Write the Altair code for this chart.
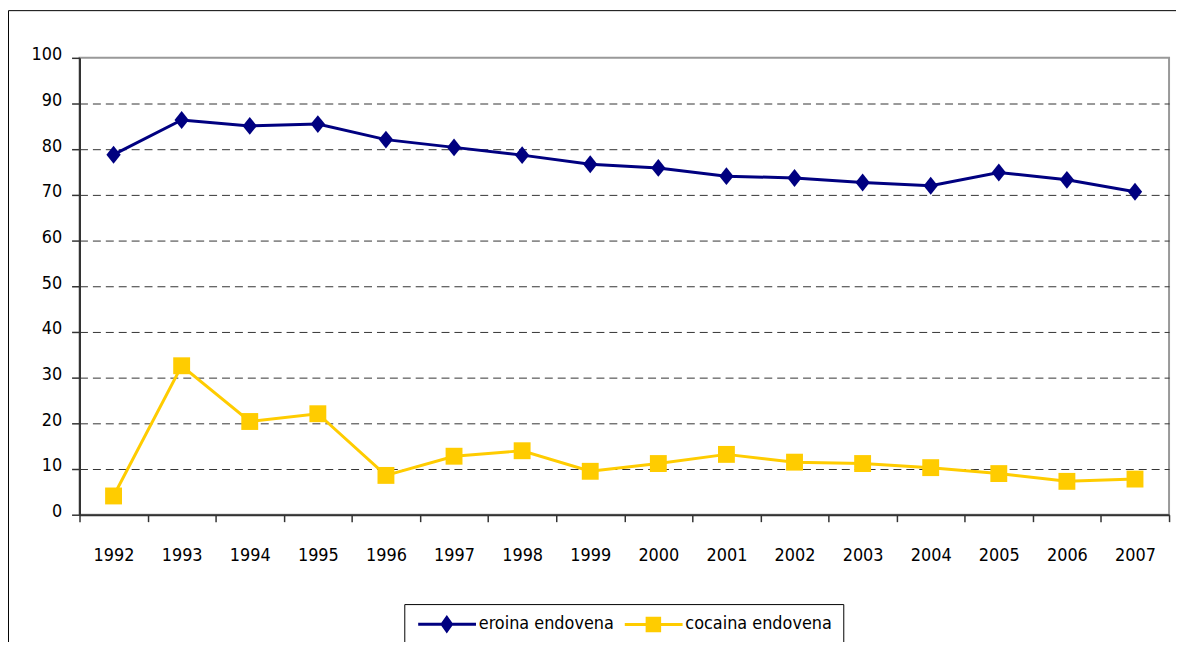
import altair as alt
import pandas as pd

years = ["1992", "1993", "1994", "1995", "1996", "1997", "1998", "1999",
         "2000", "2001", "2002", "2003", "2004", "2005", "2006", "2007"]
eroina = [78.8, 86.4, 85.1, 85.5, 82.1, 80.4, 78.7, 76.7,
          75.9, 74.1, 73.7, 72.7, 72.0, 74.9, 73.3, 70.7]
cocaina = [4.1, 32.6, 20.4, 22.1, 8.6, 12.8, 14.0, 9.5,
           11.2, 13.2, 11.5, 11.2, 10.3, 9.0, 7.3, 7.8]
series_names = ["eroina endovena", "cocaina endovena"]
colors = ["#000080", "#FFCC00"]
y_ticks = [0, 10, 20, 30, 40, 50, 60, 70, 80, 90, 100]

FONT = "Liberation Sans Narrow, Arial Narrow, DejaVu Sans Condensed, sans-serif"
FS = 18

rows = []
for i, yr in enumerate(years):
    rows.append({"year": yr, "value": eroina[i], "series": series_names[0]})
    rows.append({"year": yr, "value": cocaina[i], "series": series_names[1]})
df = pd.DataFrame(rows)

DIAMOND = "M0,-1 L0.8,0 L0,1 L-0.8,0 Z"
LEG_E = "M-1,-0.25 L8.7,-0.25 L8.7,0.25 L-1,0.25 Z M3.8,-1.55 L4.9,0 L3.8,1.55 L2.7,0 Z"
LEG_C = "M-1,-0.25 L8.7,-0.25 L8.7,0.25 L-1,0.25 Z M2.5,-1.3 L5.1,-1.3 L5.1,1.3 L2.5,1.3 Z"

x_enc = alt.X(
    "year:O",
    scale=alt.Scale(type="band", paddingInner=0, paddingOuter=0),
    axis=alt.Axis(
        title=None, labelAngle=0, tickBand="extent", tickSize=7,
        tickColor="#333333", tickWidth=1.5, domainColor="#333333",
        domainWidth=2, labelFontSize=FS, labelFont=FONT, labelColor="black",
        labelPadding=25, grid=False,
    ),
)
y_enc = alt.Y(
    "value:Q",
    scale=alt.Scale(domain=[0, 100], nice=False),
    axis=alt.Axis(
        title=None, values=y_ticks, tickSize=8, tickColor="#333333",
        tickWidth=1.5, domainColor="#333333", domainWidth=2,
        labelPadding=10, labelFontSize=FS, labelFont=FONT, labelColor="black",
        labelOffset=-3, grid=True, gridDash=[8, 5], gridColor="#333333",
        gridWidth=1,
        gridOpacity={"condition": {"test": "datum.value === 0 || datum.value === 100", "value": 0}, "value": 1},
    ),
)

base = alt.Chart(df)

frame = alt.Chart(alt.Data(values=[{"a": 1}])).mark_rect(
    filled=False, stroke="black", strokeWidth=1
).encode(
    x=alt.value(-71.5), x2=alt.value(1400), y=alt.value(-47.5), y2=alt.value(900)
)

layers = [frame]
shapes = [DIAMOND, "square"]
sizes = [324, 289]
for name, col, shp, sz in zip(series_names, colors, shapes, sizes):
    sub = base.transform_filter(alt.datum.series == name)
    layers.append(sub.mark_line(color=col, strokeWidth=3).encode(x=x_enc, y=y_enc))
    layers.append(sub.mark_point(filled=True, color=col, shape=shp, size=sz,
                                 opacity=1, strokeWidth=0).encode(x=x_enc, y=y_enc))

def make_legend():
    return alt.Legend(
        title=None, orient="none", legendX=327, legendY=550,
        direction="horizontal", symbolSize=144,
        symbolStrokeWidth=0, labelFontSize=FS, labelFont=FONT,
        labelColor="black", labelOffset=46, labelLimit=0, columnPadding=7,
        padding=11, strokeColor="black", fillColor="white",
        symbolOpacity=1,
    )

legend_layer = base.transform_filter("datum.value < 0").mark_point(
    filled=True, opacity=1, strokeWidth=0
).encode(
    x=x_enc, y=y_enc,
    color=alt.Color("series:N", scale=alt.Scale(domain=series_names, range=colors),
                    legend=make_legend()),
    shape=alt.Shape("series:N", scale=alt.Scale(domain=series_names, range=[LEG_E, LEG_C]),
                    legend=make_legend()),
)
layers.append(legend_layer)

chart = alt.layer(*layers).properties(
    width=1097, height=460,
    padding={"left": 72, "top": 48, "right": 7, "bottom": 126},
    autosize=alt.AutoSizeParams(type="none"),
    background="white",
).configure_view(stroke="#999999", strokeWidth=2)

chart.save("out.html", embed_options={"renderer": "svg", "actions": False})
